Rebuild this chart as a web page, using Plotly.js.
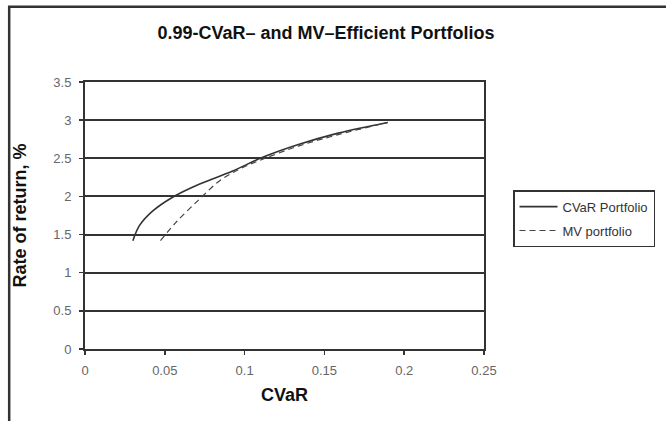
<!DOCTYPE html>
<html><head><meta charset="utf-8">
<script src="https://cdn.plot.ly/plotly-3.0.1.min.js"></script>
<style>html,body{margin:0;padding:0;background:#fff}</style>
</head><body><div id="chart" style="width:666px;height:421px"></div>
<script>
const cvarX = [0.030, 0.0342, 0.0425, 0.0549, 0.0715, 0.0922, 0.111, 0.1337, 0.1586, 0.1897];
const cvarY = [1.42, 1.62, 1.81, 1.99, 2.16, 2.33, 2.51, 2.68, 2.83, 2.97];
const mvX = [0.0473, 0.057, 0.0715, 0.084, 0.0964, 0.111, 0.1337, 0.1586, 0.1897];
const mvY = [1.42, 1.66, 1.96, 2.20, 2.355, 2.485, 2.66, 2.81, 2.97];
const seriesNames = ["CVaR Portfolio", "MV portfolio"];
const xTicks = [0, 0.05, 0.1, 0.15, 0.2, 0.25];
const yTicks = [0, 0.5, 1, 1.5, 2, 2.5, 3, 3.5];

const traces = [
  {x: cvarX, y: cvarY, name: seriesNames[0], legendgroup: 'a', mode: 'lines', line: {color: '#333', width: 1.6, shape: 'spline'}},
  {x: mvX, y: mvY, name: seriesNames[1], legendgroup: 'b', mode: 'lines', line: {color: '#444', width: 1.2, dash: '6px,4px', shape: 'spline'}}
];
const font = 'Arial, "Liberation Sans", sans-serif';
const layout = {
  width: 666, height: 421,
  margin: {l: 85, r: 181, t: 82, b: 72},
  paper_bgcolor: '#fff', plot_bgcolor: '#fff',
  font: {family: font, color: '#000'},
  title: {text: '<b>0.99-CVaR– and MV–Efficient Portfolios</b>', font: {size: 18, family: font, color: '#111'},
    xref: 'container', x: 0.4895, xanchor: 'center', yref: 'container', y: 0.9216, yanchor: 'middle'},
  xaxis: {
    range: [0, 0.25], tickvals: xTicks, ticktext: xTicks.map(String),
    showgrid: false, zeroline: false, showline: true, linecolor: '#333', linewidth: 2, mirror: true,
    ticks: 'outside', ticklen: 4, tickcolor: '#333', tickwidth: 1.5, ticklabelstandoff: 4,
    tickfont: {size: 13, color: '#666'},
    title: {text: '<b>CVaR</b>', font: {size: 18, color: '#111'}, standoff: 12}
  },
  yaxis: {
    range: [0, 3.5], tickvals: yTicks, ticktext: yTicks.map(String),
    showgrid: true, gridcolor: '#333', gridwidth: 2, zeroline: false,
    showline: true, linecolor: '#333', linewidth: 2, mirror: true,
    ticks: 'outside', ticklen: 4, tickcolor: '#333', tickwidth: 1.5, ticklabelstandoff: 5,
    tickfont: {size: 13, color: '#666'},
    title: {text: '<b>Rate of return, %</b>', font: {size: 18, color: '#111'}, standoff: 22}
  },
  showlegend: true,
  legend: {x: 1.07, y: 0.595, xanchor: 'left', yanchor: 'top', bordercolor: '#333', borderwidth: 1.5,
    font: {size: 13, color: '#333'}, tracegroupgap: 4, itemwidth: 38, bgcolor: '#fff'},
  shapes: [
    {type: 'rect', xref: 'paper', yref: 'paper', x0: -0.19, x1: 2, y0: -1, y1: 1.282, line: {color: '#333', width: 2.5}, layer: 'below'}
  ]
};
Plotly.newPlot('chart', traces, layout, {displayModeBar: false, staticPlot: true});
</script></body></html>
